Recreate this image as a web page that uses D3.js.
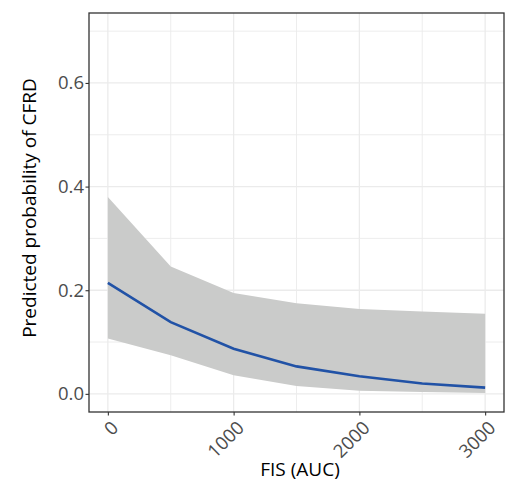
<!DOCTYPE html>
<html><head><meta charset="utf-8">
<script src="https://cdn.jsdelivr.net/npm/d3@7"></script>
<style>body{margin:0;background:#fff}svg{display:block}</style>
</head><body>
<svg id="chart" width="510" height="484"></svg>
<script>
const fis = [0, 500, 1000, 1500, 2000, 2500, 3000];
const predicted = [0.214, 0.1385, 0.087, 0.053, 0.034, 0.020, 0.012];
const lower = [0.107, 0.0745, 0.036, 0.015, 0.006, 0.0035, 0.0016];
const upper = [0.380, 0.246, 0.1945, 0.175, 0.164, 0.159, 0.1545];
const xTicks = [0, 1000, 2000, 3000];
const xMinor = [500, 1500, 2500];
const yTicks = [0, 0.2, 0.4, 0.6];
const yMinor = [0.1, 0.3, 0.5, 0.7];
const xLabel = "FIS (AUC)";
const yLabel = "Predicted probability of CFRD";

const L = 89, R = 504, T = 13, B = 412;
const svg = d3.select("#chart");
const x = d3.scaleLinear().domain([-150, 3150]).range([L, R]);
const y = d3.scaleLinear().domain([-0.035, 0.735]).range([B, T]);
const font = "'Open Sans', sans-serif";

const g = svg.append("g");
g.selectAll(".gx").data(xMinor.concat(xTicks)).join("line")
  .attr("x1", d => x(d)).attr("x2", d => x(d)).attr("y1", T).attr("y2", B)
  .attr("stroke", "#ebebeb").attr("stroke-width", d => xMinor.includes(d) ? 0.9 : 1.3);
g.selectAll(".gy").data(yMinor.concat(yTicks)).join("line")
  .attr("y1", d => y(d)).attr("y2", d => y(d)).attr("x1", L).attr("x2", R)
  .attr("stroke", "#ebebeb").attr("stroke-width", d => yMinor.includes(d) ? 0.9 : 1.3);

const data = fis.map((f, i) => ({f, p: predicted[i], lo: lower[i], hi: upper[i]}));
g.append("path").datum(data)
  .attr("d", d3.area().x(d => x(d.f)).y0(d => y(d.lo)).y1(d => y(d.hi)))
  .attr("fill", "#cacbca");
g.append("path").datum(data)
  .attr("d", d3.line().x(d => x(d.f)).y(d => y(d.p)))
  .attr("fill", "none").attr("stroke", "#2152a6").attr("stroke-width", 2.6);

g.append("rect").attr("x", L).attr("y", T).attr("width", R - L).attr("height", B - T)
  .attr("fill", "none").attr("stroke", "#333").attr("stroke-width", 1.3);

const xAxis = svg.append("g").attr("transform", `translate(0,${B})`)
  .call(d3.axisBottom(x).tickValues(xTicks).tickSize(3.5).tickSizeOuter(0).tickFormat(d3.format("d")));
xAxis.select(".domain").remove();
xAxis.selectAll(".tick line").attr("stroke", "#333").attr("stroke-width", 1.1);
xAxis.selectAll(".tick text")
  .attr("font-family", font).attr("font-size", 18.5).attr("fill", "#4d4d4d")
  .attr("text-anchor", "end").attr("dy", null).attr("y", 0)
  .attr("transform", "translate(11,17) rotate(-45)");

const yAxis = svg.append("g").attr("transform", `translate(${L},0)`)
  .call(d3.axisLeft(y).tickValues(yTicks).tickSize(3.5).tickSizeOuter(0).tickFormat(d3.format(".1f")));
yAxis.select(".domain").remove();
yAxis.selectAll(".tick line").attr("stroke", "#333").attr("stroke-width", 1.1);
yAxis.selectAll(".tick text")
  .attr("font-family", font).attr("font-size", 18.5).attr("fill", "#4d4d4d").attr("x", -5);

svg.append("text").attr("x", 300).attr("y", 476)
  .attr("text-anchor", "middle").attr("font-family", font).attr("font-size", 19)
  .attr("fill", "#000").text(xLabel);
svg.append("text").attr("transform", `translate(36,208) rotate(-90)`)
  .attr("text-anchor", "middle").attr("font-family", font).attr("font-size", 19)
  .attr("fill", "#000").text(yLabel);
</script>
</body></html>
